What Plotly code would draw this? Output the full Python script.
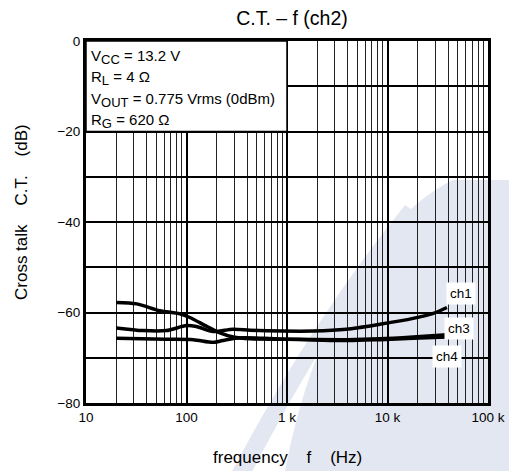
import math
import plotly.graph_objects as go

ch1_f = [20, 37, 63, 100, 125, 185, 290, 430, 900, 1830, 3900, 8400, 18000, 28600, 39000]
ch1_db = [-63.4, -64.0, -64.0, -62.9, -63.1, -64.2, -63.7, -63.9, -64.1, -64.1, -63.7, -62.6, -61.3, -60.2, -58.9]

ch3_f = [20, 32, 54, 86, 108, 160, 215, 292, 430, 1000, 4000, 8400, 18000, 39000]
ch3_db = [-57.8, -58.1, -59.6, -60.3, -61.1, -63.1, -64.5, -65.4, -65.8, -65.9, -66.0, -65.8, -65.4, -64.9]

ch4_f = [20, 63, 117, 185, 250, 365, 600, 1000, 4000, 8400, 18000, 39000]
ch4_db = [-65.7, -65.9, -66.0, -66.6, -66.0, -65.6, -65.7, -65.9, -66.2, -66.0, -65.7, -65.4]

curve_names = ["ch1", "ch3", "ch4"]
label_pos = {"ch1": (53800, -55.9), "ch3": (51000, -63.6), "ch4": (39000, -69.8)}

x_tickvals = [10, 100, 1000, 10000, 100000]
x_ticktext = ["10", "100", "1 k", "10 k", "100 k"]
y_tickvals = [0, -20, -40, -60, -80]

SUB = "<sub><span style='font-size:13px'>%s</span></sub>"
conditions = [
    "V" + SUB % "CC" + " = 13.2 V",
    "R" + SUB % "L" + " = 4 Ω",
    "V" + SUB % "OUT" + " = 0.775 Vrms (0dBm)",
    "R" + SUB % "G" + " = 620 Ω",
]

FONT = "Liberation Sans, Arial, sans-serif"
WM = "#e3e7f1"
SP = "\u00a0" * 4

fig = go.Figure()

for name, f, v in zip(curve_names, [ch1_f, ch3_f, ch4_f], [ch1_db, ch3_db, ch4_db]):
    fig.add_trace(go.Scatter(x=f, y=v, mode="lines", name=name,
                             line=dict(color="black", width=3.5, shape="spline", smoothing=0.8),
                             showlegend=False, hoverinfo="skip"))

# watermark-ish background shapes (paper coords, under the plot)
fig.add_shape(type="rect", xref="paper", yref="paper", x0=0.913, x1=1.06, y0=-0.19, y1=0.616,
              fillcolor=WM, line_width=0, layer="below")
fig.add_shape(type="path", xref="paper", yref="paper",
              path="M 0.495 -0.19 C 0.55 0.15, 0.70 0.50, 0.913 0.616 L 0.913 -0.19 Z",
              fillcolor=WM, line_width=0, layer="below")
fig.add_shape(type="path", xref="paper", yref="paper",
              path="M 0.363 -0.19 C 0.50 0.10, 0.65 0.35, 0.794 0.547 "
                   "L 0.811 0.533 C 0.68 0.33, 0.54 0.08, 0.413 -0.19 Z",
              fillcolor=WM, line_width=0, layer="below")

# conditions box
fig.add_shape(type="rect", xref="x", yref="y", x0=10, x1=1000, y0=-20, y1=0,
              fillcolor="white", line=dict(color="black", width=1.5), layer="above")

for i, txt in enumerate(conditions):
    fig.add_annotation(text=txt, xref="paper", yref="paper", x=0.0, xshift=3,
                       y=(403 - 57 - i * 21.3) / 362, xanchor="left", yanchor="middle",
                       showarrow=False, font=dict(family=FONT, size=15, color="black"))

for name in curve_names:
    fx, fy = label_pos[name]
    fig.add_annotation(text=name, x=math.log10(fx), y=fy, xref="x", yref="y",
                       showarrow=False, bgcolor="white", borderpad=3,
                       font=dict(family=FONT, size=13.5, color="black"))

# axis titles
fig.add_annotation(text="frequency" + SP + "f" + SP + "(Hz)", xref="paper", yref="paper",
                   x=0.5, y=(403 - 457) / 362, showarrow=False, yanchor="middle",
                   font=dict(family=FONT, size=17, color="black"))
fig.add_annotation(text="Cross talk" + SP + "C.T." + SP + "(dB)", xref="paper", yref="paper",
                   x=(22 - 86) / 402, y=(403 - 212) / 362, showarrow=False, textangle=-90,
                   xanchor="center", yanchor="middle",
                   font=dict(family=FONT, size=17, color="black"))

fig.update_layout(
    width=509, height=471,
    margin=dict(l=86, r=21, t=41, b=68),
    paper_bgcolor="white",
    plot_bgcolor="rgba(0,0,0,0)",
    font=dict(family=FONT, size=13, color="black"),
    title=dict(text="C.T. – f (ch2)", x=(292 / 509), xanchor="center", y=1 - 18 / 471, yanchor="middle",
               font=dict(family=FONT, size=19.5, color="black")),
    xaxis=dict(type="log", range=[1, 5], tickvals=x_tickvals, ticktext=x_ticktext,
               showgrid=True, gridcolor="black", gridwidth=2,
               minor=dict(dtick="D1", showgrid=True, gridcolor="#222", gridwidth=1, ticklen=0),
               showline=True, linecolor="black", linewidth=3, mirror=True,
               ticks="", zeroline=False, automargin=False,
               tickfont=dict(family=FONT, size=13.5)),
    yaxis=dict(range=[-80, 0], tickvals=y_tickvals,
               showgrid=True, gridcolor="black", gridwidth=1.5,
               minor=dict(dtick=10, showgrid=True, gridcolor="black", gridwidth=1.5, ticklen=0),
               showline=True, linecolor="black", linewidth=3, mirror=True,
               ticks="", zeroline=False, automargin=False,
               tickfont=dict(family=FONT, size=13.5)),
)

# browser default body margin shifts the figure; drop it
fig.write_html("out.html", config={"displayModeBar": False},
               post_script="document.body.style.margin='0px';")
